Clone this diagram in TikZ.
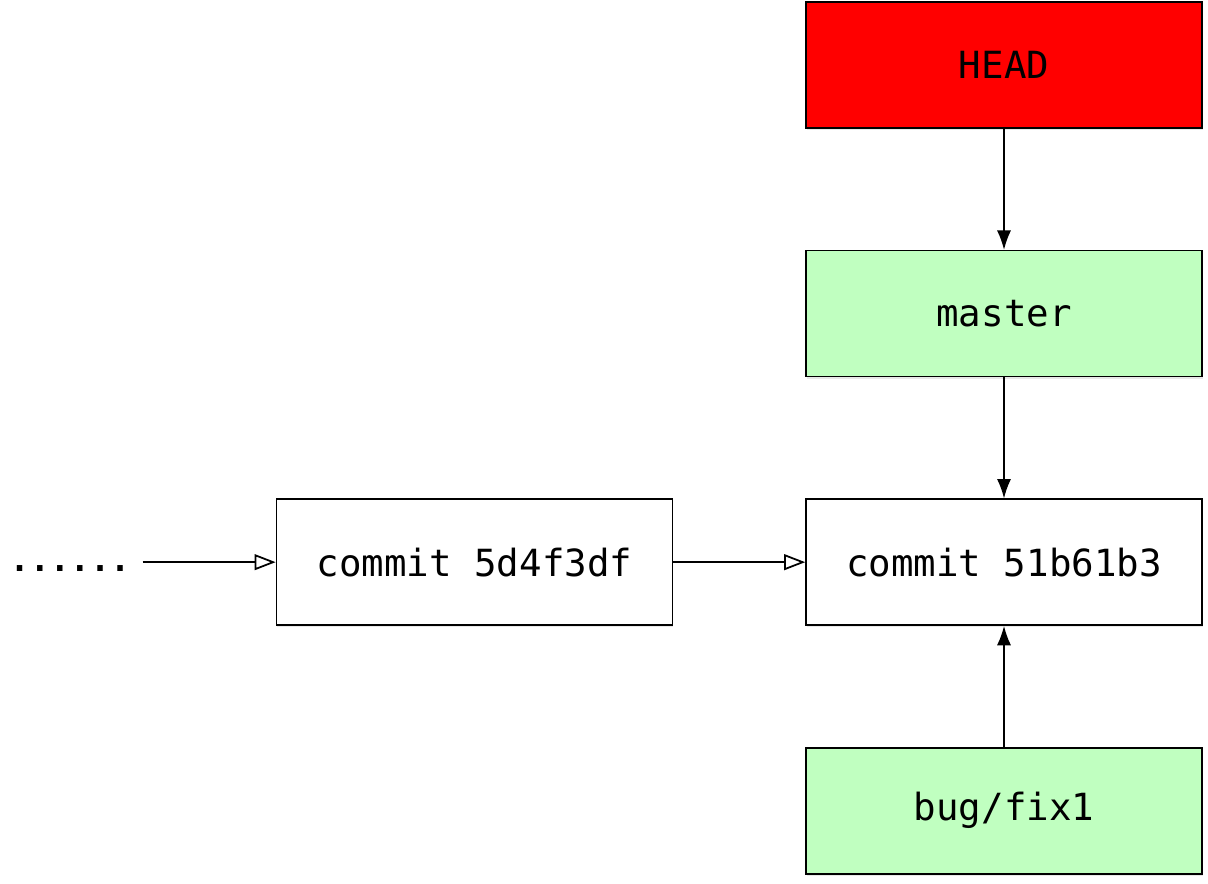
\documentclass[tikz,border=0pt]{standalone}
\usepackage{fontspec}
\setmonofont{DejaVu Sans Mono}
\usepackage{tikz}
\usetikzlibrary{positioning}
\usetikzlibrary{arrows.meta}
\usetikzlibrary{shadows}
\definecolor{headred}{RGB}{255,0,0}
\definecolor{branchgreen}{RGB}{192,255,192}
\tikzset{box/.style={draw,line width=0.9pt,minimum width=7.92cm,minimum height=2.52cm,inner sep=0pt,font=\ttfamily\fontsize{21.3}{24}\selectfont,drop shadow={opacity=0.18,shadow xshift=0.3pt,shadow yshift=-1.2pt}},
commitbox/.style={box,fill=white},
branchbox/.style={box,fill=branchgreen},
headbox/.style={box,fill=headred},
ref/.style={line width=0.8pt,-{Latex[length=11pt,width=8pt]}},
parent/.style={line width=0.8pt,-{Triangle[open,length=12pt,width=9pt,line width=1pt]}}}

\begin{document}
\begin{tikzpicture}
\useasboundingbox (0,0) rectangle (24.16,-17.66);
\node (head) at (20.08,-1.30) [headbox] {HEAD};
\node (master) [below=2.42cm of head, branchbox] {master};
\node (c2) [below=2.42cm of master, commitbox] {commit 51b61b3};
\node (bug) [below=2.42cm of c2, branchbox] {bug/fix1};
\node (c1) [left=2.64cm of c2, commitbox] {commit 5d4f3df};
\node (dots) at (1.40,-11.36) [font=\ttfamily\bfseries\fontsize{19}{24}\selectfont] {......};
\path (c1.west) ++(-2.66,0) coordinate (tail);

\draw[ref] (head) -- (master);
\draw[ref] (master) -- (c2);
\draw[ref] (bug) -- (c2);
\draw[parent] (c1) -- (c2);
\draw[parent] (tail) -- (c1);
\end{tikzpicture}
\end{document}
